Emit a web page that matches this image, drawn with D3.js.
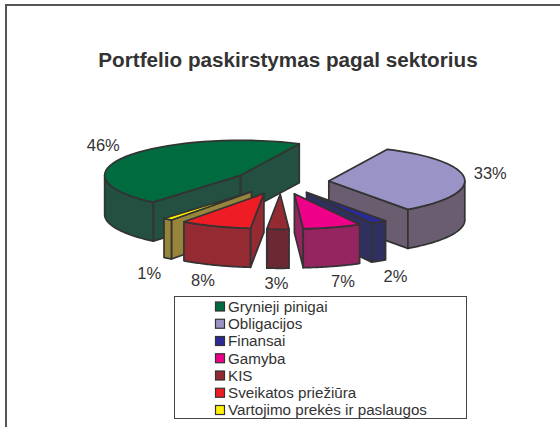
<!DOCTYPE html>
<html>
<head>
<meta charset="utf-8">
<script src="https://cdn.jsdelivr.net/npm/d3@7"></script>
<style>
  html, body { margin: 0; background: #fff; }
  svg { display: block; font-family: "Liberation Sans", Arial, sans-serif; }
</style>
</head>
<body>
<div id="chart"></div>
<script>
const sectors = ["Grynieji pinigai", "Obligacijos", "Finansai", "Gamyba", "KIS", "Sveikatos priežiūra", "Vartojimo prekės ir paslaugos"];
// labels show these rounded; decimals
const shares = [45.8, 32.9, 1.9, 6.9, 2.6, 8.4, 1.1];
const topColors = ["#006b3f", "#9a93c6", "#2a2a96", "#ee0088", "#952a32", "#ee1c25", "#fff200"];
const wallColors = ["#235040", "#6a5d70", "#303060", "#952560", "#6b2a33", "#952a33", "#98853c"];

const width = 560, height = 427;
const cx = 281, cy = 182;
const rx = 136, ry = 35;      // ellipse of the tilted pie
const ex = 48, ey = 12.3;     // explode distance
const depth = 39;
const lineCol = "#333";
const rad = Math.PI / 180;

const svg = d3.select("#chart").append("svg")
  .attr("width", width)
  .attr("height", height);

// Frame: only left and top sides show
svg.append("path")
  .attr("d", `M6,${height}V5H${width}`)
  .attr("fill", "none")
  .attr("stroke", "#555")
  .attr("stroke-width", 2);

svg.append("text")
  .attr("x", 288)
  .attr("y", 67)
  .attr("text-anchor", "middle")
  .attr("font-size", 20.7)
  .attr("font-weight", "bold")
  .attr("fill", lineCol)
  .text("Portfelio paskirstymas pagal sektorius");

const pie = d3.pie()
  .sort(null)
  .startAngle(-140 * rad)
  .endAngle(220 * rad);

const slices = pie(shares).map((d, i) => {
  const mid = (d.startAngle + d.endAngle) / 2;
  return {
    i,
    a0: d.startAngle,
    a1: d.endAngle,
    mid,
    ax: cx + ex * Math.sin(mid),
    ay: cy - ey * Math.cos(mid),
    value: d.value
  };
});

const rim = (s, a) => [s.ax + rx * Math.sin(a), s.ay - ry * Math.cos(a)];

// points along the rim between two angles
function arcPoints(s, a0, a1) {
  return d3.range(0, 41).map(k => rim(s, a0 + (a1 - a0) * k / 40));
}

const line = d3.line();
const down = p => [p[0], p[1] + depth];

// Back slices first, front ones over them
const order = slices.slice().sort((a, b) => Math.cos(b.mid) - Math.cos(a.mid));

order.forEach(s => {
  const g = svg.append("g")
    .attr("stroke", lineCol)
    .attr("stroke-width", 1.7)
    .attr("stroke-linejoin", "round");
  const apex = [s.ax, s.ay];

  // cut faces that look at the viewer
  [[s.a0, Math.sin(s.a0) < 0], [s.a1, Math.sin(s.a1) > 0]].forEach(([a, visible]) => {
    if (!visible) return;
    const p = rim(s, a);
    g.append("path")
      .attr("d", line([apex, p, down(p), down(apex)]) + "Z")
      .attr("fill", wallColors[s.i]);
  });

  // outer wall, front half of the rim only (slices start below 0, so check both turns)
  [[90, 270], [-270, -90]].forEach(([lo, hi]) => {
    const from = Math.max(s.a0, lo * rad), to = Math.min(s.a1, hi * rad);
    if (to <= from) return;
    const pts = arcPoints(s, from, to);
    g.append("path")
      .attr("d", line(pts.concat(pts.map(down).reverse())) + "Z")
      .attr("fill", wallColors[s.i]);
  });

  g.append("path")
    .attr("d", line([apex].concat(arcPoints(s, s.a0, s.a1))) + "Z")
    .attr("fill", topColors[s.i]);
});

// Percent labels just outside the rim
slices.forEach(s => {
  const p = rim(s, s.mid);
  const sin = Math.sin(s.mid), cos = Math.cos(s.mid);
  svg.append("text")
    .attr("x", p[0] + 26 * Math.sign(sin) * Math.pow(Math.abs(sin), 0.7))
    .attr("y", p[1] + (cos > 0 ? -4 - 13 * cos : depth + 15))
    .attr("dy", "0.35em")
    .attr("text-anchor", "middle")
    .attr("font-size", 16.5)
    .attr("fill", lineCol)
    .text(d3.format(".0f")(s.value) + "%");
});

// Legend
const rowY = d3.scalePoint()
  .domain(sectors)
  .range([306.5, 410]);

svg.append("rect")
  .attr("x", 174.5)
  .attr("y", 296.5)
  .attr("width", 292)
  .attr("height", 122)
  .attr("fill", "#fff")
  .attr("stroke", "#444");

sectors.forEach((name, i) => {
  svg.append("rect")
    .attr("x", 215.5)
    .attr("y", rowY(name) - 4.5)
    .attr("width", 9)
    .attr("height", 9)
    .attr("fill", topColors[i])
    .attr("stroke", lineCol)
    .attr("stroke-width", 1.2);
  svg.append("text")
    .attr("x", 228)
    .attr("y", rowY(name))
    .attr("dy", "0.35em")
    .attr("font-size", 15.2)
    .attr("fill", lineCol)
    .text(name);
});
</script>
</body>
</html>
